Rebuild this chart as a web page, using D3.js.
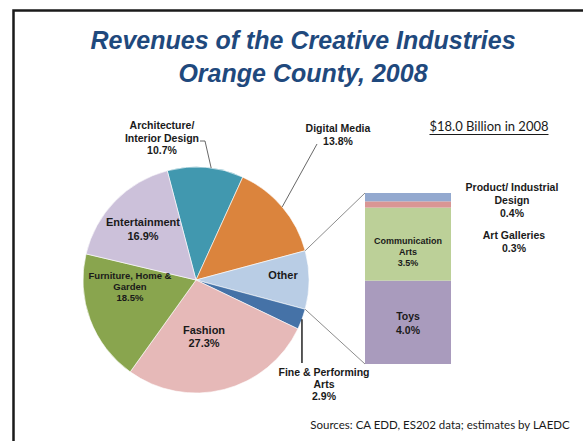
<!DOCTYPE html>
<html><head><meta charset="utf-8">
<script src="https://cdn.jsdelivr.net/npm/d3@7"></script>
<style>html,body{margin:0;padding:0;background:#fff;}svg{display:block;}</style>
</head><body>
<svg id="c" width="583" height="441"></svg>
<script>
// ---- data ----
const pieCategories = ["Architecture/ Interior Design","Digital Media","Other","Fine & Performing Arts","Fashion","Furniture, Home & Garden","Entertainment"];
const pieValues = [10.7, 13.8, 8.2, 2.9, 27.3, 18.5, 16.9];
const pieColors = ["#4198af","#db843d","#b9cde5","#4572a7","#e6b9b8","#89a54e","#ccc1da"];
const barCategories = ["Toys","Communication Arts","Art Galleries","Product/ Industrial Design"];
const barValues = [4.0, 3.5, 0.3, 0.4];
const barColors = ["#a99bbd","#bcd098","#d99694","#93a9cf"];
const titleLines = ["Revenues of the Creative Industries","Orange County, 2008"];
const totalNote = "$18.0 Billion in 2008";
const sourceNote = "Sources: CA EDD, ES202 data; estimates by LAEDC";

const svg = d3.select("#c");
const F = "'Liberation Sans', Arial, sans-serif";
const CAL = "Lato, 'Open Sans', sans-serif";

// frame
svg.append("path").attr("d","M13.5,441 V10.5 H583").attr("fill","none").attr("stroke","#1a1a1a").attr("stroke-width",2.5);

// title
svg.append("g").selectAll("text").data(titleLines).join("text")
  .attr("x",303).attr("y",(d,i)=>49+i*33).attr("text-anchor","middle")
  .attr("font-family",F).attr("font-weight","bold").attr("font-style","italic")
  .attr("font-size",25).attr("fill","#1f497d").text(d=>d);

// pie
const cx=196, cy=280, R=113;
const otherIdx = 2;
const total = d3.sum(pieValues);
const before = d3.sum(pieValues.slice(0,otherIdx)) + pieValues[otherIdx]/2;
const start = Math.PI/2 - before/total*2*Math.PI;
const pie = d3.pie().sort(null).value(d=>d).startAngle(start).endAngle(start+2*Math.PI);
const arcs = pie(pieValues);
const arc = d3.arc().innerRadius(0).outerRadius(R);
const g = svg.append("g").attr("transform",`translate(${cx},${cy})`);
g.selectAll("path").data(arcs).join("path").attr("d",arc)
  .attr("fill",(d,i)=>pieColors[i]).attr("stroke","#fff").attr("stroke-width",0.6);

const pt = (a,r)=>[cx+r*Math.sin(a), cy-r*Math.cos(a)];

// bar of pie
const barX=365, barW=86, barTop=193, barBot=364;
const y = d3.scaleLinear().domain([0,d3.sum(barValues)]).range([barBot,barTop]);
let acc=0;
const stacks = barValues.map(v=>{const s={y0:acc,y1:acc+v}; acc+=v; return s;});
svg.append("g").selectAll("rect").data(stacks).join("rect")
  .attr("x",barX).attr("width",barW).attr("y",d=>y(d.y1)).attr("height",d=>y(d.y0)-y(d.y1))
  .attr("fill",(d,i)=>barColors[i]);

// connector lines
const oa = arcs[otherIdx];
const p1 = pt(oa.startAngle,R), p2 = pt(oa.endAngle,R);
svg.append("line").attr("x1",p1[0]).attr("y1",p1[1]).attr("x2",barX).attr("y2",y(d3.sum(barValues)))
  .attr("stroke","#7f7f7f").attr("stroke-width",0.9);
svg.append("line").attr("x1",p2[0]).attr("y1",p2[1]).attr("x2",barX).attr("y2",y(0))
  .attr("stroke","#7f7f7f").attr("stroke-width",0.9);

// text helper
function label(x, yy, lines, size, lh, color){
  const t = svg.append("text").attr("text-anchor","middle").attr("font-family",F)
    .attr("font-weight","bold").attr("font-size",size).attr("fill",color||"#1a1a1a");
  lines.forEach((s,i)=>t.append("tspan").attr("x",x).attr("y",yy+i*lh).text(s));
}

// leader lines
const mid = a => (a.startAngle+a.endAngle)/2;
// Architecture
const pa = pt(mid(arcs[0])+0.05,R);
svg.append("polyline").attr("points",`200,141 205,141 ${pa[0]},${pa[1]}`).attr("fill","none").attr("stroke","#404040").attr("stroke-width",0.8);
// Digital
const pd = pt(mid(arcs[1]),R);
svg.append("line").attr("x1",317).attr("y1",144).attr("x2",pd[0]).attr("y2",pd[1]).attr("stroke","#404040").attr("stroke-width",0.8);
// Fine & performing
const pf = pt(mid(arcs[3]),R);
svg.append("line").attr("x1",pf[0]).attr("y1",pf[1]).attr("x2",pf[0]).attr("y2",363).attr("stroke","#000").attr("stroke-width",1.3);

// pie labels
label(162,129,["Architecture/","Interior Design","10.7%"],10.5,12.7);
label(338,132,["Digital Media","13.8%"],10.5,12.7);
label(143,226,["Entertainment","16.9%"],11,13.5);
label(130,279,["Furniture, Home &","Garden","18.5%"],9.5,11);
label(204,334,["Fashion","27.3%"],11,12.5);
label(283,279,["Other"],11,12);
label(324,376,["Fine & Performing","Arts","2.9%"],10.5,12);

// bar labels
label(408,244,["Communication","Arts","3.5%"],9,11);
label(408,320,["Toys","4.0%"],10.5,13.5);
label(512,191,["Product/ Industrial","Design","0.4%"],10.5,13);
label(514,239,["Art Galleries","0.3%"],10.5,13.3);

// notes
const tn = svg.append("text").attr("x",489).attr("y",131).attr("text-anchor","middle")
  .attr("font-family",CAL).attr("font-size",13).attr("fill","#1a1a1a").text(totalNote);
const bb = tn.node().getBBox();
svg.append("line").attr("x1",bb.x).attr("x2",bb.x+bb.width).attr("y1",134.5).attr("y2",134.5).attr("stroke","#1a1a1a").attr("stroke-width",1);
svg.append("text").attr("x",440).attr("y",429).attr("text-anchor","middle")
  .attr("font-family",CAL).attr("font-size",11.5).attr("fill","#1a1a1a").text(sourceNote);
</script>
</body></html>
